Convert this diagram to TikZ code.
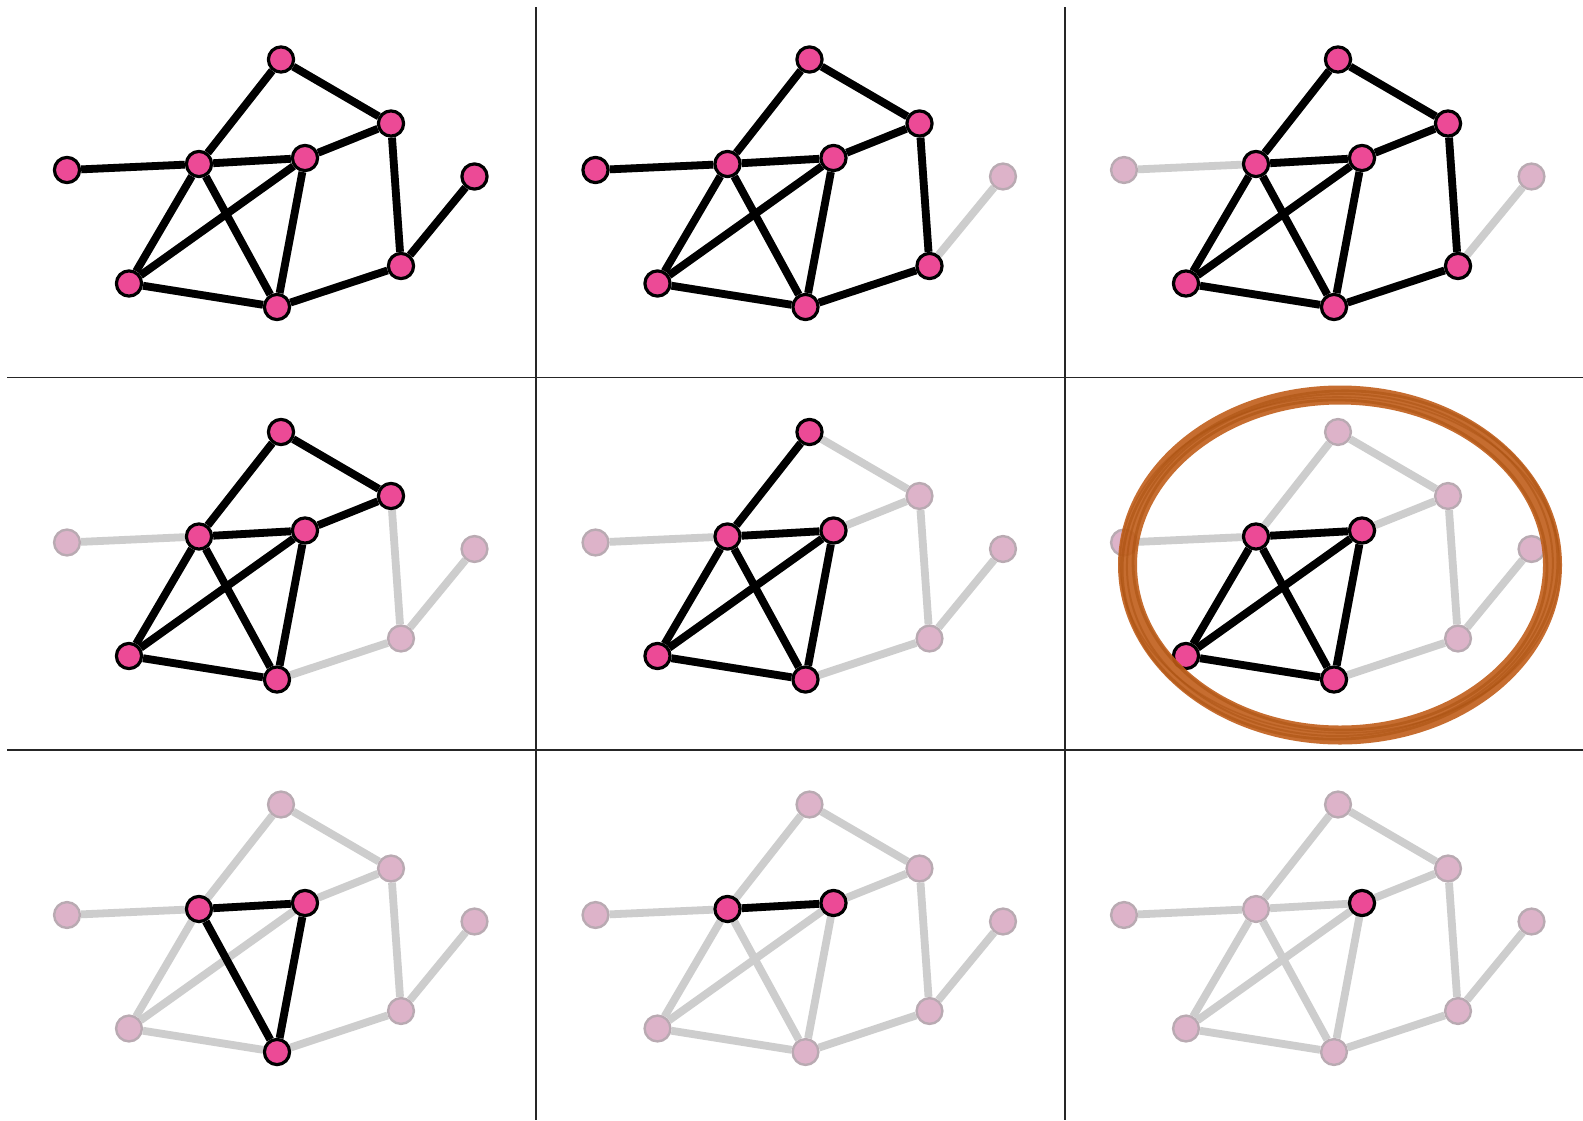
\documentclass[tikz,border=0pt]{standalone}
\pgfdeclarelayer{paper}
\pgfdeclarelayer{edges}
\pgfsetlayers{paper,edges,main}
\definecolor{pinknode}{HTML}{EC4A96}
\definecolor{greynode}{HTML}{DDB3C9}
\definecolor{greyborder}{HTML}{B9AAB2}
\definecolor{greyedge}{HTML}{CDCDCD}
\definecolor{brushc}{HTML}{C05E1A}
\definecolor{brushd}{HTML}{A9500F}
\tikzset{
  n1/.style={circle, draw=black, fill=pinknode, line width=1.6pt, minimum size=12.6pt, inner sep=0pt},
  n0/.style={circle, draw=greyborder, fill=greynode, line width=1.2pt, minimum size=12.9pt, inner sep=0pt},
  greyline/.style={draw=greyedge, line width=3.9pt},
  blackline/.style={draw=black, line width=3.9pt},
  gridline/.style={draw=black!85, line width=0.9pt},
  brush/.style={draw=brushc}
}
\def\setflags#1#2#3#4#5#6#7#8#9{\def\kcA{#1}\def\kcB{#2}\def\kcC{#3}\def\kcD{#4}\def\kcE{#5}\def\kcF{#6}\def\kcG{#7}\def\kcH{#8}\def\kcI{#9}}
\newcommand\nd[4]{\ifnum\csname kc#2\endcsname=1 \node[n1] (#1#2) at (#3,#4) {};\else\node[n0] (#1#2) at (#3,#4) {};\fi}
\newcommand\ed[3]{\ifnum\csname kc#2\endcsname\csname kc#3\endcsname=11 \draw[blackline] (#1#2) -- (#1#3);\fi}
\newcommand\panel[4]{%
  \begin{scope}[shift={(#1,#2)}]
    \setflags#4\relax
    \nd{#3}{A}{281}{59.5}
    \nd{#3}{B}{391}{123.5}
    \nd{#3}{C}{305}{158}
    \nd{#3}{D}{199}{164}
    \nd{#3}{E}{67}{170}
    \nd{#3}{F}{474.5}{176.5}
    \nd{#3}{G}{129}{283.5}
    \nd{#3}{H}{277}{307}
    \nd{#3}{I}{401}{266}
    \begin{pgfonlayer}{edges}
      \foreach \u/\v in {E/D,D/A,A/B,D/C,C/B,B/I,I/F,D/G,D/H,C/G,C/H,G/H,H/I}
        {\draw[greyline] (#3\u) -- (#3\v);}
      \foreach \u/\v in {E/D,D/A,A/B,D/C,C/B,B/I,I/F,D/G,D/H,C/G,C/H,G/H,H/I}
        {\ed{#3}{\u}{\v}}
    \end{pgfonlayer}
  \end{scope}}
\begin{document}
\begin{tikzpicture}[x=0.5pt,y=-0.5pt]
  \useasboundingbox (0,0) rectangle (1583,1120);
  \begin{pgfonlayer}{paper}
    \fill[white] (0,0) rectangle (1583,1120);
  \end{pgfonlayer}
  % grid
  \coordinate (v1t) at (536,7);   \coordinate (v1b) at (536,1120);
  \coordinate (v2t) at (1065,7);  \coordinate (v2b) at (1065,1120);
  \coordinate (h1l) at (7,377.5); \coordinate (h1r) at (1583,377.5);
  \coordinate (h2l) at (7,750);   \coordinate (h2r) at (1583,750);
  \draw[gridline] (v1t) -- (v1b);
  \draw[gridline] (v2t) -- (v2b);
  \draw[gridline] (h1l) -- (h1r);
  \draw[gridline] (h2l) -- (h2r);
  % panels
  \panel{0}{0}{a}{111111111}
  \panel{528.5}{0}{b}{111110111}
  \panel{1057}{0}{c}{111100111}
  \panel{0}{372.5}{d}{111100110}
  \panel{528.5}{372.5}{e}{101100110}
  \panel{1057}{372.5}{f}{001100110}
  \panel{0}{745}{g}{001100010}
  \panel{528.5}{745}{h}{001100000}
  \panel{1057}{745}{i}{001000000}
  % brush ellipse
  \coordinate (ec) at (1340,565);
  \draw[brush, line width=9.5pt, opacity=0.9] (ec) ellipse [x radius=212.5, y radius=170];
  \draw[draw=brushd, line width=1.4pt, opacity=0.55, rotate around={3:(ec)}] (ec) ellipse [x radius=218, y radius=174];
  \draw[draw=brushd, line width=1.4pt, opacity=0.55, rotate around={-2:(ec)}] (ec) ellipse [x radius=207, y radius=165];
  \draw[draw=brushd, line width=1.0pt, opacity=0.5, rotate around={1.5:(ec)}] (ec) ellipse [x radius=213, y radius=171];
  \draw[draw=brushd, line width=0.8pt, opacity=0.45, rotate around={-1:(ec)}] (ec) ellipse [x radius=220, y radius=168];
\end{tikzpicture}
\end{document}
